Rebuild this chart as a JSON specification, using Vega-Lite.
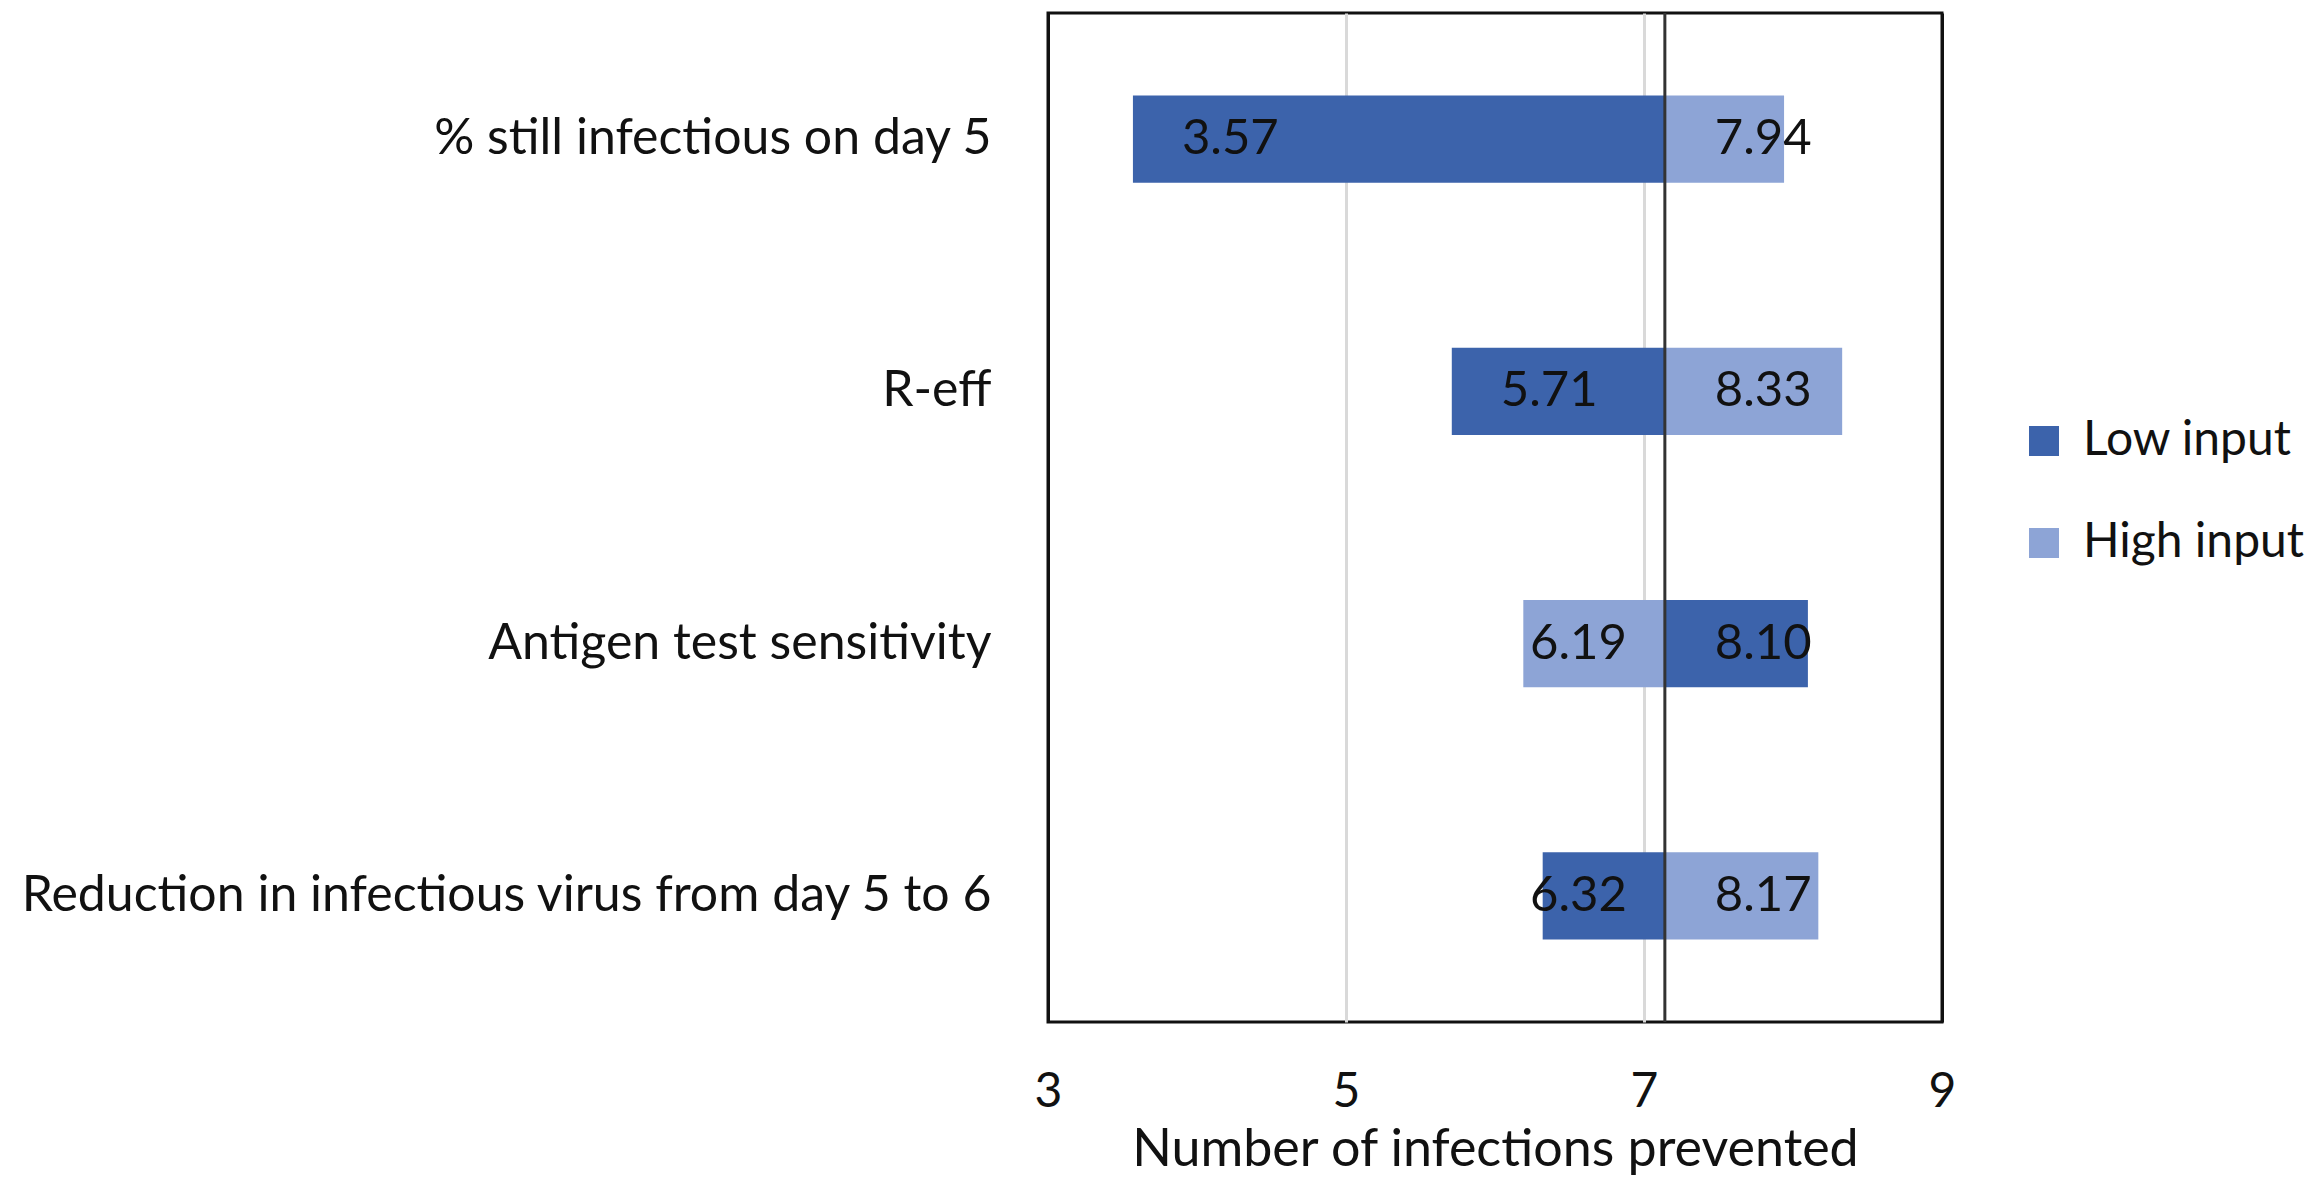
{
  "$schema": "https://vega.github.io/schema/vega-lite/v6.json",
  "autosize": {"type": "none"},
  "width": 894,
  "height": 1009,
  "padding": {"left": 1048, "top": 13, "right": 363, "bottom": 171},
  "background": "white",
  "config": {
    "font": "Lato",
    "view": {"stroke": "#111111", "strokeWidth": 3},
    "axis": {"labelColor": "#111111", "titleColor": "#111111"}
  },
  "data": {
    "values": [
      {"param": "% still infectious on day 5", "input": "Low input", "value": 3.57, "base": 7.14},
      {"param": "% still infectious on day 5", "input": "High input", "value": 7.94, "base": 7.14},
      {"param": "R-eff", "input": "Low input", "value": 5.71, "base": 7.14},
      {"param": "R-eff", "input": "High input", "value": 8.33, "base": 7.14},
      {"param": "Antigen test sensitivity", "input": "Low input", "value": 8.10, "base": 7.14},
      {"param": "Antigen test sensitivity", "input": "High input", "value": 6.19, "base": 7.14},
      {"param": "Reduction in infectious virus from day 5 to 6", "input": "Low input", "value": 6.32, "base": 7.14},
      {"param": "Reduction in infectious virus from day 5 to 6", "input": "High input", "value": 8.17, "base": 7.14}
    ]
  },
  "encoding": {
    "y": {
      "field": "param",
      "type": "nominal",
      "sort": ["% still infectious on day 5", "R-eff", "Antigen test sensitivity", "Reduction in infectious virus from day 5 to 6"],
      "scale": {"paddingInner": 0.655, "paddingOuter": 0.3275},
      "axis": {"title": null, "domain": false, "ticks": false, "labelFontSize": 50, "labelPadding": 57, "labelLimit": 0}
    }
  },
  "layer": [
    {
      "mark": {"type": "bar"},
      "encoding": {
        "x": {
          "field": "value",
          "type": "quantitative",
          "scale": {"domain": [3, 9], "nice": false, "zero": false},
          "axis": {
            "values": [3, 5, 7, 9],
            "format": "d",
            "title": "Number of infections prevented",
            "titleFontSize": 52,
            "titleFontWeight": "normal",
            "titlePadding": 8,
            "labelFontSize": 48,
            "labelPadding": 46,
            "labelFlush": false,
            "domain": false,
            "ticks": false,
            "grid": true,
            "gridColor": {"condition": {"test": "datum.value === 3 || datum.value === 9", "value": "#111111"}, "value": "#d9d9d9"},
            "gridWidth": 3
          }
        },
        "x2": {"field": "base"},
        "color": {
          "field": "input",
          "type": "nominal",
          "scale": {"domain": ["Low input", "High input"], "range": ["#3C63AB", "#8DA4D6"]},
          "legend": {
            "title": null,
            "orient": "none",
            "legendX": 972,
            "legendY": 404,
            "symbolType": "square",
            "symbolSize": 900,
            "symbolStrokeWidth": 0,
            "labelFontSize": 48,
            "labelColor": "#111111",
            "labelOffset": 15,
            "labelLimit": 0,
            "rowPadding": 54,
            "padding": 0
          }
        }
      }
    },
    {
      "data": {"values": [{"base": 7.14}]},
      "mark": {"type": "rule", "color": "#333333", "strokeWidth": 3},
      "encoding": {"x": {"field": "base", "type": "quantitative"}, "y": null}
    },
    {
      "transform": [{"filter": "datum.value > datum.base"}],
      "mark": {"type": "text", "align": "left", "baseline": "middle", "dx": 50, "fontSize": 49, "color": "#111111"},
      "encoding": {
        "x": {"field": "base", "type": "quantitative"},
        "text": {"field": "value", "type": "quantitative", "format": ".2f"}
      }
    },
    {
      "transform": [{"filter": "datum.value < 6"}],
      "mark": {"type": "text", "align": "left", "baseline": "middle", "dx": 49, "fontSize": 49, "color": "#111111"},
      "encoding": {
        "x": {"field": "value", "type": "quantitative"},
        "text": {"field": "value", "type": "quantitative", "format": ".2f"}
      }
    },
    {
      "transform": [{"filter": "datum.value >= 6 && datum.value < datum.base"}],
      "mark": {"type": "text", "align": "right", "baseline": "middle", "dx": -38, "fontSize": 49, "color": "#111111"},
      "encoding": {
        "x": {"field": "base", "type": "quantitative"},
        "text": {"field": "value", "type": "quantitative", "format": ".2f"}
      }
    }
  ]
}
